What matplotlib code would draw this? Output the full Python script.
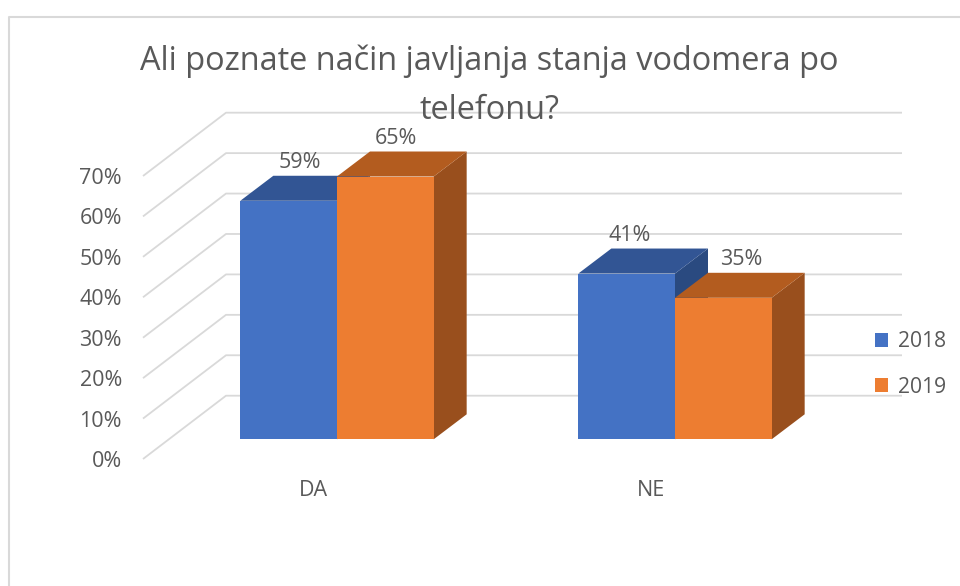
import matplotlib
matplotlib.use('Agg')
import matplotlib.pyplot as plt
from matplotlib.patches import Polygon
from matplotlib.lines import Line2D

plt.rcParams['font.family'] = ['Open Sans', 'DejaVu Sans']

# Data
categories = ['DA', 'NE']
series_names = ['2018', '2019']
values_2018 = [59, 41]
values_2019 = [65, 35]
y_ticks = [0, 10, 20, 30, 40, 50, 60, 70]
title = 'Ali poznate način javljanja stanja vodomera po\ntelefonu?'

# Colours (front, top, side)
blue = ('#4472C4', '#325594', '#2A4A80')
orange = ('#ED7D31', '#B35C1F', '#994F1D')
text_col = '#595959'
grid_col = '#D9D9D9'

# one category = 338 px, 10% = 40.43 px
width = 0.286
depth_x = 33 / 338
depth_y = 25 / 4.043
x_lo, x_hi = -337 / 338, (960 - 337) / 338
y_lo, y_hi = (439.3 - 586) / 4.043, 439.3 / 4.043

fig = plt.figure(figsize=(9.6, 5.86), dpi=100, facecolor='white')
ax = fig.add_axes([0, 0, 1, 1])
ax.set_xlim(x_lo, x_hi)
ax.set_ylim(y_lo, y_hi)
ax.axis('off')


def px(v):
    return x_lo + v / 338


def py(v):
    return (439.3 - v) / 4.043


# Outer frame, drawn on the figure
fig.add_artist(Line2D([9 / 960, 9 / 960, 1], [0, 1 - 16.5 / 586, 1 - 16.5 / 586],
                      color=grid_col, lw=1.5))

# Back wall and floor gridlines
for t in y_ticks:
    ax.plot([px(143), px(226), px(902)],
            [t + py(459), t + py(395.7), t + py(395.7)],
            color=grid_col, lw=1.3, zorder=1, solid_capstyle='butt')
    ax.text(px(122), t + py(461.5), f'{t}%', ha='right', va='center',
            fontsize=15.5, color=text_col, zorder=2)


def draw_bars(offset, values, cols, label, order):
    xs = [i + offset for i in range(len(values))]
    bars = ax.bar(xs, values, width=width, color=cols[0], label=label, zorder=order + 2)
    for x, v in zip(xs, values):
        l, r = x - width / 2, x + width / 2
        ax.add_patch(Polygon([(r, 0), (r + depth_x, depth_y), (r + depth_x, v + depth_y), (r, v)],
                             closed=True, facecolor=cols[2], edgecolor='none', zorder=order))
        ax.add_patch(Polygon([(l, v), (l + depth_x, v + depth_y), (r + depth_x, v + depth_y), (r, v)],
                             closed=True, facecolor=cols[1], edgecolor='none', zorder=order + 1))
    return bars


draw_bars(-width / 2, values_2018, blue, series_names[0], 3)
draw_bars(width / 2, values_2019, orange, series_names[1], 6)

# Data labels
label_shift = [[11.5, 3], [11, 18]]
for s, vals in enumerate([values_2018, values_2019]):
    off = -width / 2 if s == 0 else width / 2
    for i, v in enumerate(vals):
        ax.text(i + off + label_shift[s][i] / 338, v + 9.4, f'{v}%', ha='center', va='center',
                fontsize=15.5, color=text_col, zorder=12)

# Category labels
for i, c in enumerate(categories):
    ax.text(i - 24 / 338, py(491), c, ha='center', va='center',
            fontsize=15.5, color=text_col, zorder=12)

ax.text(px(489), py(86), title, ha='center', va='center', fontsize=23.4,
        color=text_col, linespacing=1.64, zorder=12)

ax.legend(loc='center left', bbox_to_anchor=(869 / 960, 1 - 364.5 / 586),
          frameon=False, fontsize=15.2, labelcolor=text_col, handlelength=0.62, handleheight=0.62,
          handletextpad=0.45, labelspacing=1.15, borderpad=0.3, borderaxespad=0)

fig.savefig('out.png', dpi=100)
